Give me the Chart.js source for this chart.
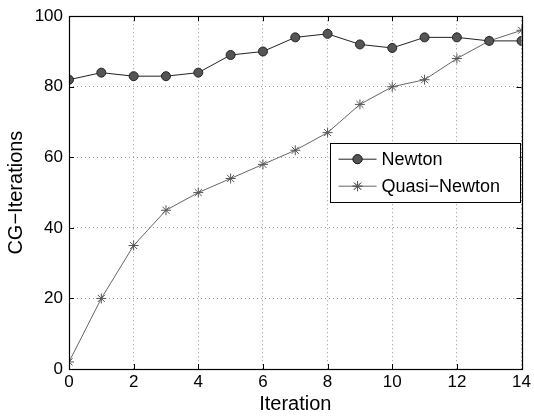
<!DOCTYPE html>
<html>
<head>
<meta charset="utf-8">
<script src="https://cdn.jsdelivr.net/npm/chart.js@4/dist/chart.umd.min.js"></script>
<style>
  html, body { margin: 0; padding: 0; background: #fff; }
  #wrap { width: 534px; height: 417px; position: relative; }
</style>
</head>
<body>
<div id="wrap"><canvas id="c" width="534" height="417"></canvas></div>
<script>
// ---- data ----
const iterations = [0, 1, 2, 3, 4, 5, 6, 7, 8, 9, 10, 11, 12, 13, 14];
const newton = [82, 84, 83, 83, 84, 89, 90, 94, 95, 92, 91, 94, 94, 93, 93];
const quasiNewton = [2, 20, 35, 45, 50, 54, 58, 62, 67, 75, 80, 82, 88, 93, 96];
const seriesNames = ['Newton', 'Quasi\u2212Newton'];
const xTicks = [0, 2, 4, 6, 8, 10, 12, 14];
const yTicks = [0, 20, 40, 60, 80, 100];
const xTitle = 'Iteration';
const yTitle = 'CG\u2212Iterations';

const FONT = 'Arial, "Liberation Sans", Helvetica, sans-serif';

const toPts = (ys) => iterations.map((x, i) => ({ x, y: ys[i] }));

// box + inward ticks (MATLAB style)
const boxPlugin = {
  id: 'box',
  afterDatasetsDraw(chart) {
    const { ctx, chartArea: a, scales } = chart;
    ctx.save();
    ctx.strokeStyle = '#000';
    ctx.lineWidth = 1;
    const tl = 5;
    ctx.beginPath();
    xTicks.forEach(v => {
      const px = Math.round(scales.x.getPixelForValue(v)) + 0.5;
      ctx.moveTo(px, a.bottom); ctx.lineTo(px, a.bottom - tl);
      ctx.moveTo(px, a.top); ctx.lineTo(px, a.top + tl);
    });
    yTicks.forEach(v => {
      const py = Math.round(scales.y.getPixelForValue(v)) + 0.5;
      ctx.moveTo(a.left, py); ctx.lineTo(a.left + tl, py);
      ctx.moveTo(a.right, py); ctx.lineTo(a.right - tl, py);
    });
    ctx.stroke();
    ctx.lineWidth = 1.2;
    ctx.strokeRect(Math.round(a.left) + 0.5, Math.round(a.top) + 0.5,
                   Math.round(a.right - a.left), Math.round(a.bottom - a.top));
    ctx.restore();
  }
};

// MATLAB-like legend with line + marker samples
const legendPlugin = {
  id: 'mlegend',
  afterDraw(chart) {
    const { ctx, chartArea: a } = chart;
    const w = 190, h = 59;
    const right = a.right - 2, top = a.top + 127;
    const left = right - w;
    ctx.save();
    ctx.fillStyle = '#fff';
    ctx.fillRect(left, top, w, h);
    ctx.strokeStyle = '#000';
    ctx.lineWidth = 1;
    ctx.strokeRect(Math.round(left) + 0.5, Math.round(top) + 0.5, w, h);
    const rows = [top + 16, top + 43];
    chart.data.datasets.forEach((ds, i) => {
      const y = rows[i];
      ctx.strokeStyle = ds.borderColor;
      ctx.lineWidth = ds.borderWidth;
      ctx.beginPath();
      ctx.moveTo(left + 9, y); ctx.lineTo(left + 47, y);
      ctx.stroke();
      Chart.helpers.drawPoint(ctx, {
        pointStyle: ds.pointStyle, radius: ds.pointRadius, borderWidth: ds.pointBorderWidth, rotation: 0
      }, left + 28, y);
      ctx.fillStyle = ds.pointBackgroundColor;
      ctx.strokeStyle = ds.pointBorderColor;
      ctx.lineWidth = ds.pointBorderWidth;
      ctx.beginPath();
      if (ds.pointStyle === 'circle') {
        ctx.arc(left + 28, y, ds.pointRadius, 0, Math.PI * 2);
        ctx.fill(); ctx.stroke();
      } else {
        const r = ds.pointRadius;
        for (let k = 0; k < 4; k++) {
          const ang = k * Math.PI / 4;
          ctx.moveTo(left + 28 - r * Math.cos(ang), y - r * Math.sin(ang));
          ctx.lineTo(left + 28 + r * Math.cos(ang), y + r * Math.sin(ang));
        }
        ctx.stroke();
      }
      ctx.fillStyle = '#000';
      ctx.font = '18px ' + FONT;
      ctx.textBaseline = 'middle';
      ctx.textAlign = 'left';
      ctx.fillText(ds.label, left + 52, y + 1);
    });
    ctx.restore();
  }
};

new Chart(document.getElementById('c'), {
  type: 'line',
  data: {
    datasets: [
      {
        label: seriesNames[0],
        data: toPts(newton),
        borderColor: '#222',
        borderWidth: 1,
        pointStyle: 'circle',
        pointRadius: 4.5,
        pointBackgroundColor: '#555',
        pointBorderColor: '#222',
        pointBorderWidth: 1,
        tension: 0
      },
      {
        label: seriesNames[1],
        data: toPts(quasiNewton),
        borderColor: '#666',
        borderWidth: 1,
        pointStyle: 'star',
        pointRadius: 5,
        pointBackgroundColor: '#555',
        pointBorderColor: '#555',
        pointBorderWidth: 1,
        tension: 0
      }
    ]
  },
  options: {
    responsive: false,
    animation: false,
    devicePixelRatio: 1,
    layout: { padding: { top: 13, right: 11, left: 0, bottom: 0 } },
    plugins: { legend: { display: false }, tooltip: { enabled: false } },
    scales: {
      x: {
        type: 'linear',
        min: 0, max: 14,
        afterFit: (s) => { s.height = 48; },
        afterBuildTicks: (s) => { s.ticks = xTicks.map(v => ({ value: v })); },
        ticks: { color: '#000', font: { size: 17, family: FONT }, padding: 3, maxRotation: 0 },
        grid: { color: '#999', drawTicks: false, lineWidth: 1 },
        border: { display: false, dash: [1, 3] },
        title: { display: true, text: xTitle, color: '#000', font: { size: 20, family: FONT }, padding: { top: 0, bottom: 1 } }
      },
      y: {
        min: 0, max: 100,
        afterFit: (s) => { s.width = 69; },
        afterBuildTicks: (s) => { s.ticks = yTicks.map(v => ({ value: v })); },
        ticks: { color: '#000', font: { size: 17, family: FONT }, padding: 6 },
        grid: { color: '#999', drawTicks: false, lineWidth: 1 },
        border: { display: false, dash: [1, 3] },
        title: { display: true, text: yTitle, color: '#000', font: { size: 20, family: FONT }, padding: { top: 4, bottom: 0 } }
      }
    }
  },
  plugins: [boxPlugin, legendPlugin]
});
</script>
</body>
</html>
